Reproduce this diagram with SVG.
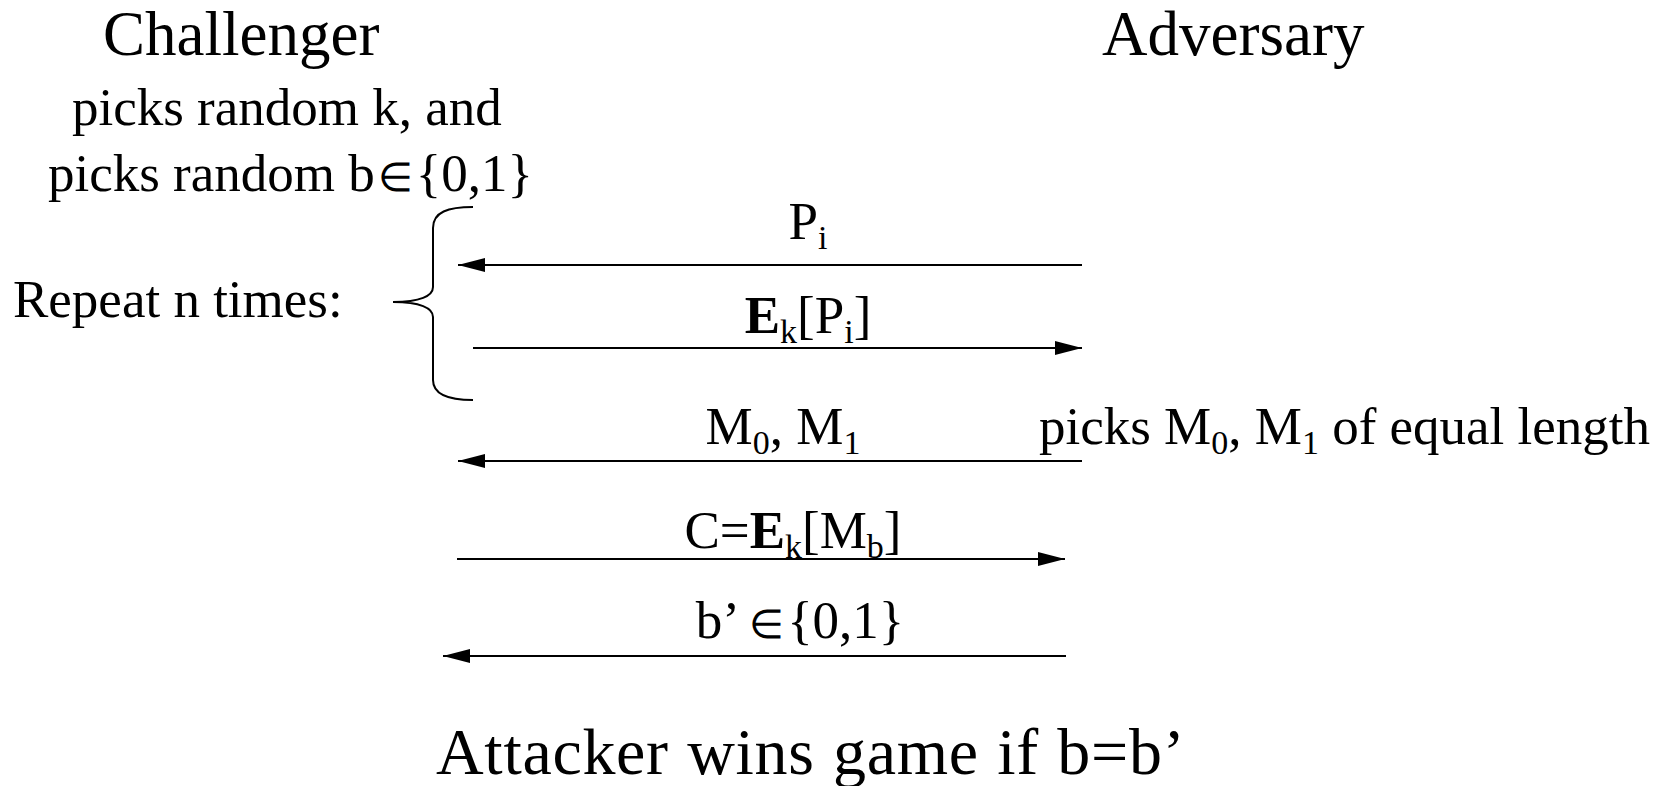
<svg xmlns="http://www.w3.org/2000/svg" width="1667" height="786" viewBox="0 0 1667 786">
<style>
text{font-family:"Liberation Serif","Times New Roman",serif;fill:#000}
.big{font-size:63px}
.med{font-size:53px}
.lbl{font-size:53px;text-anchor:middle}
.sub{font-size:34px}
.sym{font-size:40px}
.b{font-weight:bold}
.res{font-size:66px;letter-spacing:0.7px;word-spacing:1.2px}
.conn line{stroke:#000;stroke-width:2;marker-end:url(#ah)}
</style>
<defs>
<marker id="ah" markerUnits="userSpaceOnUse" markerWidth="28" markerHeight="16" refX="27" refY="7" orient="auto">
<path d="M0,0 L27,7 L0,14 z" fill="#000"/>
</marker>
</defs>
<rect width="1667" height="786" fill="#fff"/>
<g id="challenger">
<text class="big" x="103" y="55">Challenger</text>
<text class="med" x="72" y="125">picks random k, and</text>
<text class="med" x="48" y="191">picks random b<tspan class="sym" dx="3">∈</tspan><tspan dx="3">{0,1}</tspan></text>
</g>
<g id="adversary">
<text class="big" x="1102" y="55">Adversary</text>
<text class="med" x="1039" y="444">picks M<tspan class="sub" dy="10">0</tspan><tspan dy="-10">, M</tspan><tspan class="sub" dy="10">1</tspan><tspan dy="-10"> of equal length</tspan></text>
</g>
<g id="repeat">
<text class="med" x="13" y="317">Repeat n times:</text>
<path d="M473,207 C448,207 433,212 433,228 L433,287 C433,296 420,302 393,302 C420,302 433,308 433,317 L433,380 C433,394 448,400 473,400" fill="none" stroke="#000" stroke-width="2"/>
</g>
<g id="labels">
<text class="lbl" x="808" y="239">P<tspan class="sub" dy="10">i</tspan></text>
<text class="lbl" x="808" y="333"><tspan class="b">E</tspan><tspan class="sub" dy="10">k</tspan><tspan dy="-10">[P</tspan><tspan class="sub" dy="10">i</tspan><tspan dy="-10">]</tspan></text>
<text class="lbl" x="783" y="444">M<tspan class="sub" dy="10">0</tspan><tspan dy="-10">, M</tspan><tspan class="sub" dy="10">1</tspan></text>
<text class="lbl" x="793" y="548">C=<tspan class="b">E</tspan><tspan class="sub" dy="10">k</tspan><tspan dy="-10">[M</tspan><tspan class="sub" dy="10">b</tspan><tspan dy="-10">]</tspan></text>
<text class="lbl" x="800" y="638">b’ <tspan class="sym">∈</tspan><tspan dx="3">{0,1}</tspan></text>
</g>
<g id="result">
<text class="res" x="436" y="774">Attacker wins game if b=b’</text>
</g>
<g id="connectors" class="conn">
<line x1="1082" y1="265" x2="458" y2="265"/>
<line x1="473" y1="348" x2="1082" y2="348"/>
<line x1="1082" y1="461" x2="458" y2="461"/>
<line x1="457" y1="559" x2="1065" y2="559"/>
<line x1="1066" y1="656" x2="443" y2="656"/>
</g>
</svg>
